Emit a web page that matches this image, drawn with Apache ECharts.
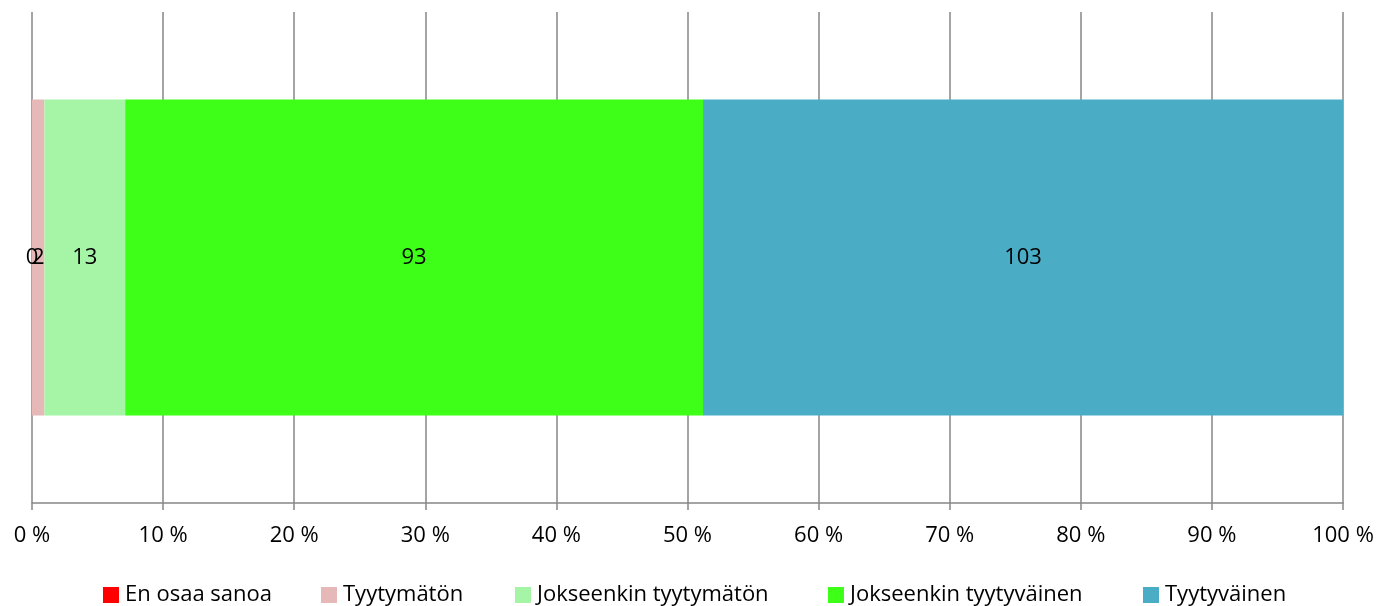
<!DOCTYPE html>
<html>
<head>
<meta charset="utf-8">
<script src="https://cdn.jsdelivr.net/npm/echarts@6/dist/echarts.min.js"></script>
<style>html,body{margin:0;padding:0;background:#fff}#c{width:1377px;height:606px}</style>
</head>
<body>
<div id="c"></div>
<script>
var categories = [''];
var seriesNames = ['En osaa sanoa', 'Tyytymätön', 'Jokseenkin tyytymätön', 'Jokseenkin tyytyväinen', 'Tyytyväinen'];
var seriesCounts = [0, 2, 13, 93, 103];
var seriesColors = ['#ff0000', '#e6b9b8', '#a6f5a6', '#3dff17', '#4bacc6'];
var tickLabels = ['0 %', '10 %', '20 %', '30 %', '40 %', '50 %', '60 %', '70 %', '80 %', '90 %', '100 %'];
var legendLeft = [103, 321, 515, 828, 1143];

var total = seriesCounts.reduce(function(a, b){ return a + b; }, 0);
var font = '"Open Sans", sans-serif';

var series = seriesNames.map(function(n, i){
  return {
    name: n, type: 'bar', stack: 'all', barWidth: 316,
    data: [{value: seriesCounts[i] / total * 100, count: seriesCounts[i]}],
    itemStyle: {color: seriesColors[i]},
    label: {show: true, position: 'inside', color: '#000', fontFamily: font, fontSize: 22,
      formatter: function(p){ return String(p.data.count); }},
    emphasis: {disabled: true}
  };
});

var legends = seriesNames.map(function(n, i){
  return {
    data: [n], left: legendLeft[i], top: 584, padding: 0, itemWidth: 16, itemHeight: 16, icon: 'rect',
    textStyle: {color: '#000', fontFamily: font, fontSize: 22, padding: [0, 0, 0, 1]}, itemGap: 0, selectedMode: false
  };
});

var chart = echarts.init(document.getElementById('c'));
chart.setOption({
  animation: false,
  grid: {left: 32, right: 34, top: 12, bottom: 103, containLabel: false},
  legend: legends,
  xAxis: {
    type: 'value', min: 0, max: 100, interval: 10,
    axisLine: {show: true, lineStyle: {color: '#868686', width: 1.5}},
    axisTick: {show: true, length: 7, lineStyle: {color: '#868686', width: 1.5}},
    splitLine: {show: true, lineStyle: {color: '#868686', width: 1.5}},
    axisLabel: {color: '#000', fontFamily: font, fontSize: 22, margin: 22,
      formatter: function(v){ return tickLabels[Math.round(v / 10)]; }}
  },
  yAxis: {type: 'category', data: categories, show: false},
  series: series
});
</script>
</body>
</html>
